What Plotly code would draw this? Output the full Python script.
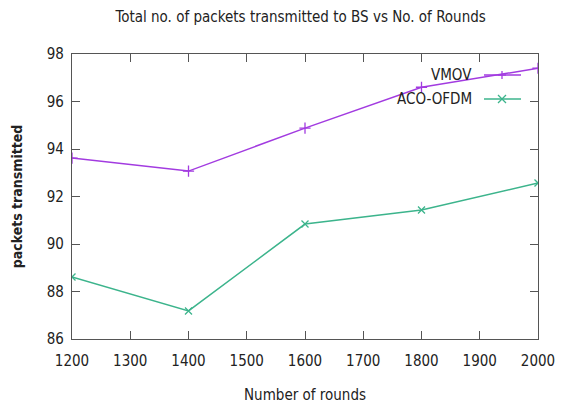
import plotly.graph_objects as go

rounds = [1200, 1400, 1600, 1800, 2000]
vmov = [93.62, 93.07, 94.88, 96.6, 97.4]
aco_ofdm = [88.61, 87.18, 90.84, 91.43, 92.57]

x_ticks = [1200, 1300, 1400, 1500, 1600, 1700, 1800, 1900, 2000]
y_ticks = [86, 88, 90, 92, 94, 96, 98]

purple = "#a23be0"
green = "#3cb48c"
font_family = "DejaVu Sans Condensed, DejaVu Sans, sans-serif"

W, H = 562, 408
ML, MR, MT, MB = 72, 24, 54, 69

fig = go.Figure()
fig.add_trace(go.Scatter(x=rounds, y=vmov, mode="lines+markers", name="VMOV",
                         line=dict(color=purple, width=1.5),
                         marker=dict(symbol="cross-thin", size=8,
                                     line=dict(color=purple, width=1.3))))
fig.add_trace(go.Scatter(x=rounds, y=aco_ofdm, mode="lines+markers", name="ACO-OFDM",
                         line=dict(color=green, width=1.5),
                         marker=dict(symbol="x-thin", size=7,
                                     line=dict(color=green, width=1.3))))

axis_common = dict(showgrid=False, zeroline=False, showline=True, linecolor="#555",
                   linewidth=1.2, ticks="inside", ticklen=8, tickcolor="#555",
                   mirror="ticks", automargin=False,
                   tickfont=dict(family=font_family, size=15, color="#222"))

fig.update_xaxes(range=[1200, 2000], tickvals=x_ticks, ticklabelstandoff=8, **axis_common,
                 title=dict(text="Number of rounds", standoff=20,
                            font=dict(family=font_family, size=15, color="#222")))
fig.update_yaxes(range=[86, 98], tickvals=y_ticks, ticklabelstandoff=4, **axis_common,
                 title=dict(text="<b>packets transmitted</b>", standoff=20,
                            font=dict(family=font_family, size=14, color="#222")))

# gnuplot-style key: right-aligned label with a line sample to its right
pw, ph = W - ML - MR, H - MT - MB
def px(xp):
    return (xp - ML) / pw
def py(yp):
    return 1 - (yp - MT) / ph

key = [("VMOV", purple, 75, "+"), ("ACO-OFDM", green, 99, "x")]
for label, color, ypix, sym in key:
    fig.add_annotation(x=px(474), y=py(ypix), xref="paper", yref="paper", text=label,
                       showarrow=False, xanchor="right", yanchor="middle",
                       font=dict(family=font_family, size=15, color="#222"))
    fig.add_shape(type="line", xref="paper", yref="paper",
                  x0=px(484), x1=px(521), y0=py(ypix), y1=py(ypix),
                  line=dict(color=color, width=1.5))
    cx, cy, r = px(502), py(ypix), 4
    if sym == "+":
        segs = [(-r, 0, r, 0), (0, -r, 0, r)]
    else:
        segs = [(-r, -r, r, r), (-r, r, r, -r)]
    for dx0, dy0, dx1, dy1 in segs:
        fig.add_shape(type="line", xref="paper", yref="paper",
                      x0=cx + dx0 / pw, x1=cx + dx1 / pw,
                      y0=cy + dy0 / ph, y1=cy + dy1 / ph,
                      line=dict(color=color, width=1.3))

fig.update_layout(
    width=W, height=H, showlegend=False,
    margin=dict(l=ML, r=MR, t=MT, b=MB),
    plot_bgcolor="white", paper_bgcolor="white",
    title=dict(text="Total no. of packets transmitted to BS vs No. of Rounds",
               x=0.535, xanchor="center", y=1 - 17 / H, yanchor="middle",
               font=dict(family=font_family, size=15, color="#222")),
)

fig.write_html("out.html")
